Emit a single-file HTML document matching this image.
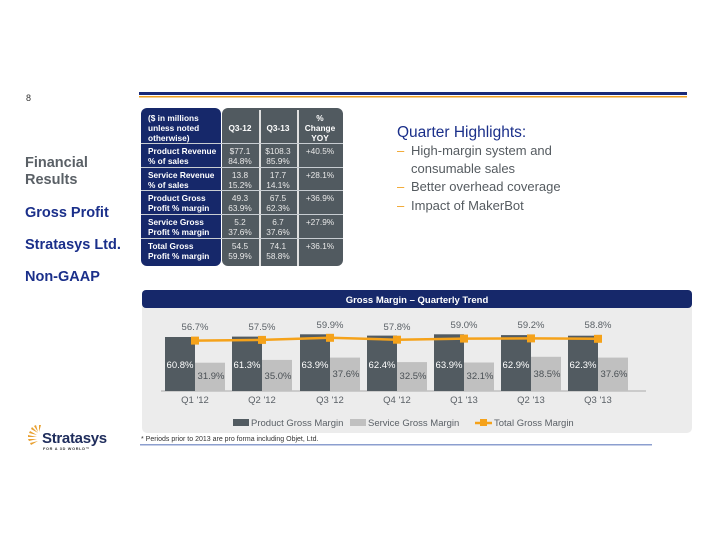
<!DOCTYPE html>
<html><head><meta charset="utf-8"><style>
body{margin:0;background:#fff;}
svg{display:block;font-family:"Liberation Sans",Arial,sans-serif;}
</style></head><body>
<svg width="714" height="539" viewBox="0 0 714 539" xmlns="http://www.w3.org/2000/svg">
<rect width="714" height="539" fill="#fff"/>
<text x="26" y="101" font-size="9" fill="#333">8</text>
<rect x="139" y="92" width="548" height="3" fill="#1a2a78"/>
<rect x="139" y="96" width="548" height="1.5" fill="#f0a020"/>
<g font-size="14.5" font-weight="bold">
<text x="25" y="167" fill="#5a6066">Financial</text>
<text x="25" y="184" fill="#5a6066">Results</text>
<text x="25" y="217" fill="#1a2f8a">Gross Profit</text>
<text x="25" y="249" fill="#1a2f8a">Stratasys Ltd.</text>
<text x="25" y="281" fill="#1a2f8a">Non-GAAP</text>
</g>
<!-- table -->
<rect x="141" y="108" width="80" height="158" rx="6" fill="#16286a"/>
<rect x="222" y="108" width="121" height="158" rx="6" fill="#515a60"/>
<rect x="259" y="110" width="2" height="156" fill="#e0e0e0"/>
<rect x="297" y="110" width="2" height="156" fill="#e0e0e0"/>
<g fill="#c8cdd2"><rect x="141" y="143" width="202" height="1"/><rect x="141" y="167" width="202" height="1"/><rect x="141" y="190" width="202" height="1"/><rect x="141" y="214" width="202" height="1"/><rect x="141" y="238" width="202" height="1"/></g>
<g font-size="8.3" font-weight="bold" fill="#fff">
<text x="148" y="121">($ in millions</text><text x="148" y="131">unless noted</text><text x="148" y="141">otherwise)</text>
<text x="148" y="154">Product Revenue</text><text x="148" y="164">% of sales</text>
<text x="148" y="178">Service Revenue</text><text x="148" y="188">% of sales</text>
<text x="148" y="201">Product Gross</text><text x="148" y="211">Profit % margin</text>
<text x="148" y="225">Service Gross</text><text x="148" y="235">Profit % margin</text>
<text x="148" y="249">Total Gross</text><text x="148" y="259">Profit % margin</text>
</g>
<g font-size="8.3" fill="#fff" text-anchor="middle" font-weight="bold">
<text x="240" y="131">Q3-12</text><text x="278" y="131">Q3-13</text>
<text x="320" y="121">%</text><text x="320" y="131">Change</text><text x="320" y="141">YOY</text>
</g>
<g font-size="8.3" fill="#e8e8e8" text-anchor="middle">
<text x="240" y="154">$77.1</text><text x="240" y="164">84.8%</text><text x="278" y="154">$108.3</text><text x="278" y="164">85.9%</text><text x="320" y="154">+40.5%</text>
<text x="240" y="178">13.8</text><text x="240" y="188">15.2%</text><text x="278" y="178">17.7</text><text x="278" y="188">14.1%</text><text x="320" y="178">+28.1%</text>
<text x="240" y="201">49.3</text><text x="240" y="211">63.9%</text><text x="278" y="201">67.5</text><text x="278" y="211">62.3%</text><text x="320" y="201">+36.9%</text>
<text x="240" y="225">5.2</text><text x="240" y="235">37.6%</text><text x="278" y="225">6.7</text><text x="278" y="235">37.6%</text><text x="320" y="225">+27.9%</text>
<text x="240" y="249">54.5</text><text x="240" y="259">59.9%</text><text x="278" y="249">74.1</text><text x="278" y="259">58.8%</text><text x="320" y="249">+36.1%</text>
</g>
<!-- highlights -->
<text x="397" y="137" font-size="15.5" fill="#1a2f8a">Quarter Highlights:</text>
<g font-size="13" fill="#555b60">
<text x="397" y="155" fill="#f0a020">–</text><text x="411" y="155">High-margin system and</text>
<text x="411" y="173">consumable sales</text>
<text x="397" y="191" fill="#f0a020">–</text><text x="411" y="191">Better overhead coverage</text>
<text x="397" y="210" fill="#f0a020">–</text><text x="411" y="210">Impact of MakerBot</text>
</g>
<!-- chart panel -->
<rect x="142" y="300" width="550" height="133" rx="5" fill="#ececec"/>
<rect x="142" y="290" width="550" height="18" rx="4" fill="#16286a"/>
<text x="417" y="303" font-size="9.5" font-weight="bold" fill="#fff" text-anchor="middle">Gross Margin – Quarterly Trend</text>
<line x1="161" y1="391" x2="646" y2="391" stroke="#aaa" stroke-width="1"/>
<g>
<rect x="165" y="337" width="30" height="54" fill="#525b61"/><rect x="195" y="362.7" width="30" height="28.3" fill="#c0c0c0"/>
<rect x="232" y="336.6" width="30" height="54.4" fill="#525b61"/><rect x="262" y="359.9" width="30" height="31.1" fill="#c0c0c0"/>
<rect x="300" y="334.3" width="30" height="56.7" fill="#525b61"/><rect x="330" y="357.6" width="30" height="33.4" fill="#c0c0c0"/>
<rect x="367" y="335.6" width="30" height="55.4" fill="#525b61"/><rect x="397" y="362.1" width="30" height="28.9" fill="#c0c0c0"/>
<rect x="434" y="334.3" width="30" height="56.7" fill="#525b61"/><rect x="464" y="362.5" width="30" height="28.5" fill="#c0c0c0"/>
<rect x="501" y="335.1" width="30" height="55.9" fill="#525b61"/><rect x="531" y="356.8" width="30" height="34.2" fill="#c0c0c0"/>
<rect x="568" y="335.7" width="30" height="55.3" fill="#525b61"/><rect x="598" y="357.6" width="30" height="33.4" fill="#c0c0c0"/>
</g>
<polyline points="195,340.6 262,339.9 330,337.8 397,339.7 464,338.6 531,338.4 598,338.8" fill="none" stroke="#f5a21a" stroke-width="2.5"/>
<g fill="#f5a21a">
<rect x="191" y="336.6" width="8" height="8"/><rect x="258" y="335.9" width="8" height="8"/><rect x="326" y="333.8" width="8" height="8"/><rect x="393" y="335.7" width="8" height="8"/><rect x="460" y="334.6" width="8" height="8"/><rect x="527" y="334.4" width="8" height="8"/><rect x="594" y="334.8" width="8" height="8"/>
</g>
<g font-size="9.5" fill="#5a6066" text-anchor="middle">
<text x="195" y="330">56.7%</text><text x="262" y="330">57.5%</text><text x="330" y="328">59.9%</text><text x="397" y="330">57.8%</text><text x="464" y="328">59.0%</text><text x="531" y="328">59.2%</text><text x="598" y="328">58.8%</text>
<text x="195" y="403">Q1 '12</text><text x="262" y="403">Q2 '12</text><text x="330" y="403">Q3 '12</text><text x="397" y="403">Q4 '12</text><text x="464" y="403">Q1 '13</text><text x="531" y="403">Q2 '13</text><text x="598" y="403">Q3 '13</text>
</g>
<g font-size="9.5" fill="#fff" text-anchor="middle">
<text x="180" y="368">60.8%</text><text x="247" y="368">61.3%</text><text x="315" y="368">63.9%</text><text x="382" y="368">62.4%</text><text x="449" y="368">63.9%</text><text x="516" y="368">62.9%</text><text x="583" y="368">62.3%</text>
</g>
<g font-size="9.5" fill="#4a5055" text-anchor="middle">
<text x="211" y="379">31.9%</text><text x="278" y="379">35.0%</text><text x="346" y="377">37.6%</text><text x="413" y="379">32.5%</text><text x="480" y="379">32.1%</text><text x="547" y="377">38.5%</text><text x="614" y="377">37.6%</text>
</g>
<!-- legend -->
<rect x="233" y="419" width="16" height="7" fill="#525b61"/>
<text x="251" y="426" font-size="9.5" fill="#5a6066">Product Gross Margin</text>
<rect x="350" y="419" width="16" height="7" fill="#c0c0c0"/>
<text x="368" y="426" font-size="9.5" fill="#5a6066">Service Gross Margin</text>
<line x1="475" y1="423" x2="492" y2="423" stroke="#f5a21a" stroke-width="2.5"/>
<rect x="480" y="419" width="7" height="7" fill="#f5a21a"/>
<text x="494" y="426" font-size="9.5" fill="#5a6066">Total Gross Margin</text>
<text x="141" y="441" font-size="7" fill="#333">* Periods prior to 2013 are pro forma including Objet, Ltd.</text>
<rect x="140" y="444" width="512" height="1.5" fill="#8c9fcf"/>
<!-- logo -->
<g fill="#e8a030">
<path d="M38 432 L34 426 L36 425 Z"/><path d="M38 433 L31 429 L32 427 Z"/><path d="M37 435 L29 433 L30 431 Z"/><path d="M37 437 L28 437 L28 435 Z"/><path d="M37 439 L29 441 L28 439 Z"/><path d="M38 441 L31 445 L30 443 Z"/><path d="M39 432 L39 425 L41 425 Z"/>
</g>
<text x="42" y="443" font-size="15" font-weight="bold" fill="#1f2d5c" letter-spacing="-0.3">Stratasys</text>
<text x="43" y="450" font-size="3.8" font-weight="bold" fill="#333" letter-spacing="0.7">FOR A 3D WORLD™</text>
</svg>
</body></html>
